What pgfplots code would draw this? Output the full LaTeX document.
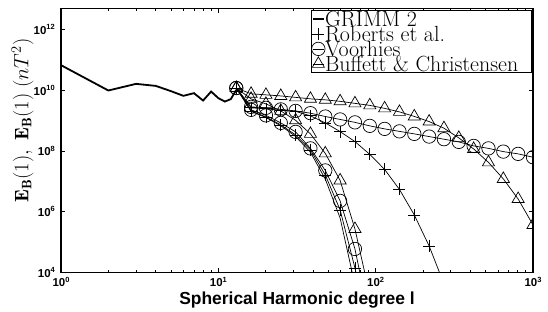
\documentclass[border=0pt]{standalone}
\usepackage{fontspec}
\newfontfamily\hel{Liberation Sans}
\usepackage{pgfplots}
\pgfplotsset{compat=1.18}
\newcommand\tl[1]{{\hel\bfseries\fontsize{11.5}{13}\selectfont 10\raisebox{0.42em}{\fontsize{7.5}{8}\selectfont #1}}}
\begin{document}
\begin{tikzpicture}
\begin{axis}[
 name=ax,
 xmode=log, ymode=log,
 scale only axis, width=472bp, height=264.4bp,
 xmin=1, xmax=1000, ymin=1e4, ymax=4.9e12,
 axis line style={line width=1.1bp},
 every tick/.style={black, line width=0.7bp},
 major tick length=4.5bp, minor tick length=2.7bp,
 xtick={1,10,100,1000},
 xticklabels={\tl{0},\tl{1},\tl{2},\tl{3}},
 ytick={1e4,1e6,1e8,1e10,1e12},
 yticklabels={\tl{4},\tl{6},\tl{8},\tl{10},\tl{12}},
 yminorticks=false,
 xticklabel style={inner sep=0pt, yshift=-4bp, anchor=north},
 yticklabel style={inner sep=0pt, xshift=-6bp, anchor=east},
 xlabel={\hel\bfseries\fontsize{17.5}{20}\selectfont Spherical Harmonic degree l},
 xlabel style={at={(axis description cs:0.5,-0.122)}, anchor=base},
 ylabel={\fontsize{19.6}{23}\selectfont $\mathbf{E_B}(1),\ \mathbf{E_{\bar{B}}}(1)\ (nT^2)$},
 ylabel style={at={(axis description cs:-0.0693,0.575)}, anchor=base},
 clip marker paths=true,
 legend style={at={(axis description cs:1,1)}, anchor=north east, xshift=-1.3bp, yshift=-1.7bp,
   draw=black, line width=0.8bp, inner xsep=0pt, inner ysep=1bp, row sep=0pt, column sep=0pt,
   font=\fontsize{22}{15}\selectfont,
   nodes={inner sep=0pt, text height=15bp, text depth=0bp}},
 legend cell align=left,
 legend image code/.code={\draw[mark repeat=2,mark phase=2] plot coordinates {(0bp,0bp)(5.5bp,0bp)(11bp,0bp)};},
 model/.style={black, line width=0.7bp, mark options={solid, line width=0.7bp}},
]
% GRIMM 2
\addplot[black, line width=1.8bp, no marks] coordinates {
(1,6.62e10) (2,9.73e9) (3,1.61e10) (4,1.38e10) (5,9.27e9) (6,6.50e9) (7,7.96e9)
(8,4.55e9) (9,8.99e9) (10,5.46e9) (11,4.22e9) (12,5.06e9) (13,1.02e10)};
\addlegendentry{GRIMM 2}
% Roberts slow
\addplot[model, mark=+, mark size=6bp] coordinates {
(13,1.175e10) (16.15,2.62e9) (20.07,2.43e9) (24.94,2.17e9) (30.98,2.01e9) (38.49,1.43e9)
(47.83,8.39e8) (59.43,4.35e8) (73.84,2.04e8) (91.75,7.73e7) (114.0,2.48e7) (141.6,5.46e6)
(176.0,7.91e5) (218.7,7.55e4) (271.7,4.27e3)};
\addlegendentry{Roberts et al.}
% Voorhies slow
\addplot[model, mark=o, mark size=6.7bp] coordinates {
(13,1.175e10) (16.15,2.82e9) (20.07,2.62e9) (24.94,2.33e9) (30.98,2.08e9) (38.49,1.75e9)
(47.83,1.36e9) (59.43,1.09e9) (73.84,8.73e8) (91.75,6.70e8) (114.0,5.33e8) (141.6,4.42e8)
(176.0,3.65e8) (218.7,2.98e8) (271.7,2.44e8) (337.6,1.99e8) (419.5,1.47e8) (521.2,1.22e8)
(647.6,9.55e7) (804.6,8.04e7) (1000,6.25e7)};
\addlegendentry{Voorhies}
% Buffett slow
\addplot[model, mark=triangle, mark size=7bp] coordinates {
(13,1.175e10) (16.15,7.59e9) (20.07,7.0e9) (24.94,6.46e9) (30.98,5.79e9) (38.49,5.18e9)
(47.83,4.80e9) (59.43,4.29e9) (73.84,3.68e9) (91.75,3.16e9) (114.0,2.52e9) (141.6,1.93e9)
(176.0,1.37e9) (218.7,9.27e8) (271.7,5.62e8) (337.6,2.70e8) (419.5,1.17e8) (521.2,4.22e7)
(647.6,1.21e7) (804.6,2.65e6) (1000,3.71e5)};
\addlegendentry{Buffett \& Christensen\hspace*{13bp}}
% steep branches
\addplot[model, mark=+, mark size=6bp] coordinates {
(13,1.175e10) (16.15,2.08e9) (20.07,1.32e9) (24.94,7.23e8) (30.98,3.39e8) (38.49,1.09e8)
(47.83,1.64e7) (59.43,1.16e6) (73.84,1.43e4) (91.75,60)};
\addplot[model, mark=o, mark size=6.7bp] coordinates {
(13,1.175e10) (16.15,2.25e9) (20.07,1.48e9) (24.94,8.39e8) (30.98,4.25e8) (38.49,1.22e8)
(47.83,2.30e7) (59.43,2.29e6) (73.84,6.03e4) (91.75,275)};
\addplot[model, mark=triangle, mark size=7bp] coordinates {
(13,1.175e10) (16.15,5.18e9) (20.07,3.54e9) (24.94,2.08e9) (30.98,1.02e9) (38.49,3.66e8)
(47.83,8.34e7) (59.43,1.08e7) (73.84,2.74e5) (91.75,1.86e3)};
\addplot[model, no marks] coordinates {
(13,1.175e10) (16.15,2.0e9) (20.07,1.26e9) (24.94,6.76e8) (30.98,3.02e8) (38.49,9.12e7)
(47.83,1.2e7) (59.43,6.3e5) (73.84,3.98e3)};
\end{axis}
\path ([shift={(-61bp,-37.3bp)}]ax.south west) rectangle ([shift={(15bp,8.3bp)}]ax.north east);
\end{tikzpicture}
\end{document}
